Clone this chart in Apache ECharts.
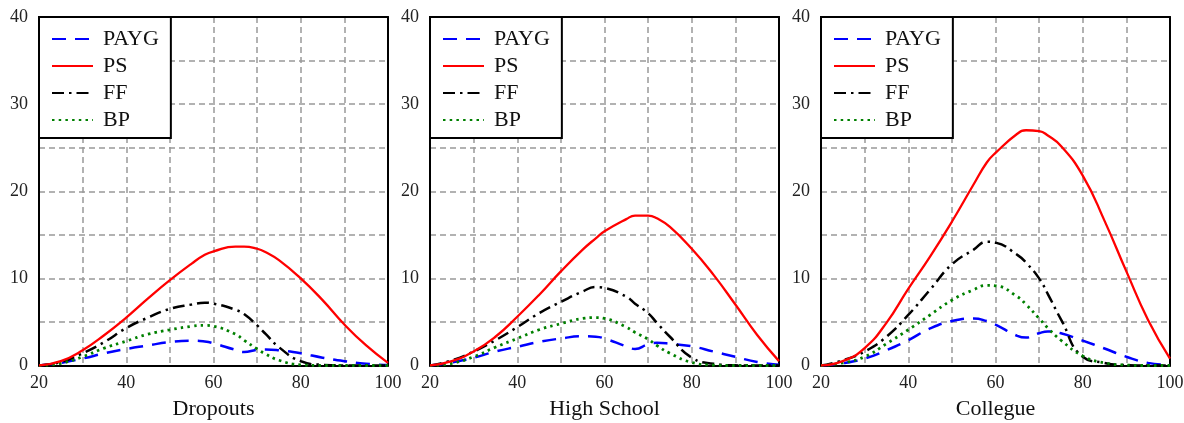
<!DOCTYPE html>
<html>
<head>
<meta charset="utf-8">
<script src="https://cdn.jsdelivr.net/npm/echarts@6/dist/echarts.min.js"></script>
<style>
html,body{margin:0;padding:0;background:#fff;}
#chart{width:1184px;height:423px;}
</style>
</head>
<body>
<div id="chart"></div>
<script>
// ---- data ----
const xs = [20,25,30,35,40,45,50,55,58,60,65,67,70,72,75,80,85,90,95,100];
const panelTitles = ['Dropouts','High School','Collegue'];
const seriesNames = ['PAYG','PS','FF','BP'];
const xTickLabels = [20,40,60,80,100];
const yTickLabels = [0,10,20,30,40];

const dropPAYG = [0,0.3,0.8,1.4,1.9,2.3,2.7,2.85,2.75,2.55,1.8,1.55,1.8,1.85,1.75,1.4,0.9,0.5,0.2,0.05];
const dropPS   = [0,0.5,1.75,3.5,5.5,7.7,9.8,11.7,12.7,13.1,13.65,13.65,13.4,13.0,12.1,10.0,7.5,4.7,2.3,0.3];
const dropFF   = [0,0.4,1.4,2.7,4.3,5.5,6.5,7.0,7.2,7.1,6.4,5.9,4.6,3.6,2.1,0.5,0.08,0.01,0,0];
const dropBP   = [0,0.25,1.0,2.0,2.8,3.6,4.1,4.5,4.6,4.5,3.6,2.9,1.9,1.3,0.6,0.08,0,0,0,0];

const hsPAYG = [0,0.35,0.9,1.6,2.15,2.7,3.1,3.35,3.3,3.1,2.2,1.9,2.45,2.6,2.5,2.2,1.6,1.0,0.4,0.1];
const hsPS   = [0,0.5,1.6,3.3,5.6,8.1,10.8,13.3,14.6,15.4,16.8,17.2,17.2,16.9,15.9,13.4,10.4,7.0,3.5,0.5];
const hsFF   = [0,0.6,1.6,2.9,4.4,6.0,7.3,8.5,9.0,8.9,7.9,7.1,6.0,4.9,3.3,0.9,0.2,0.02,0,0];
const hsBP   = [0,0.25,1.0,2.1,3.1,4.1,4.8,5.4,5.5,5.4,4.4,3.8,3.0,2.3,1.4,0.35,0.05,0,0,0];

const colPAYG = [0,0.25,0.8,1.75,2.9,4.25,5.1,5.4,5.1,4.7,3.4,3.2,3.7,3.9,3.7,2.85,1.95,1.0,0.3,0.08];
const colPS   = [0,0.5,2.0,4.9,8.8,12.5,16.5,20.8,23.3,24.4,26.6,27.0,26.9,26.4,25.2,21.8,16.6,10.8,5.2,0.8];
const colFF   = [0,0.6,1.6,3.3,5.8,8.7,11.6,13.3,14.2,14.1,12.7,11.8,10.0,8.2,5.3,1.0,0.3,0.05,0,0];
const colBP   = [0,0.3,1.0,2.5,4.1,5.8,7.5,8.7,9.2,9.15,7.9,7.0,5.4,4.3,2.9,1.1,0.3,0.05,0,0];

const panelData = [
  [dropPAYG, dropPS, dropFF, dropBP],
  [hsPAYG, hsPS, hsFF, hsBP],
  [colPAYG, colPS, colFF, colBP]
];

// ---- styles ----
const FONT = "'Liberation Serif','DejaVu Serif',serif";
const lineStyles = [
  {color:'#0000ff', width:2.5, type:[14,9]},
  {color:'#ff0000', width:2.3, type:'solid'},
  {color:'#000000', width:2.5, type:[12,5,2.5,5]},
  {color:'#008000', width:2.8, type:[2.5,4.2]}
];
const gridLefts = [39, 430, 821];
const GW = 349, GTOP = 17, GH = 348.5;
const border = {show:true, onZero:false, lineStyle:{color:'#000', width:2}};
const gridSplit = {show:true, showMinLine:false, showMaxLine:false,
  lineStyle:{color:'#999', width:1.5, type:[6,4]}};

const grids = [], xAxes = [], yAxes = [], series = [], legends = [];
gridLefts.forEach((left, i) => {
  grids.push({left:left, top:GTOP, width:GW, height:GH, outerBoundsMode:'none', containLabel:false});
  // bottom x axis
  xAxes.push({
    type:'value', gridIndex:i, position:'bottom', min:20, max:100, interval:10,
    name: panelTitles[i], nameLocation:'middle', nameGap:33,
    nameTextStyle:{fontFamily:FONT, fontSize:22, color:'#111'},
    axisLine:border, axisTick:{show:false},
    axisLabel:{margin:9, fontFamily:FONT, fontSize:18, color:'#222',
      formatter: v => xTickLabels.includes(v) ? String(v) : ''},
    splitLine:gridSplit
  });
  // top frame
  xAxes.push({
    type:'value', gridIndex:i, position:'top', min:20, max:100, interval:10,
    axisLine:border, axisTick:{show:false}, axisLabel:{show:false}, splitLine:{show:false}
  });
  // left y axis
  yAxes.push({
    type:'value', gridIndex:i, position:'left', min:0, max:40, interval:5,
    axisLine:border, axisTick:{show:false},
    axisLabel:{margin:11, fontFamily:FONT, fontSize:18, color:'#222',
      formatter: v => yTickLabels.includes(v) ? String(v) : ''},
    splitLine:gridSplit
  });
  // right frame
  yAxes.push({
    type:'value', gridIndex:i, position:'right', min:0, max:40, interval:5,
    axisLine:border, axisTick:{show:false}, axisLabel:{show:false}, splitLine:{show:false}
  });
  seriesNames.forEach((name, k) => {
    series.push({
      name:name, type:'line', xAxisIndex:2*i, yAxisIndex:2*i,
      data: xs.map((x, j) => [x, panelData[i][k][j]]),
      smooth:0.5, showSymbol:false, symbol:'none',
      lineStyle:lineStyles[k], itemStyle:{color:lineStyles[k].color},
      silent:true, animation:false, z:3 + (k===1?1:0)
    });
  });
  legends.push({
    orient:'vertical', left:left, top:GTOP, data:seriesNames,
    backgroundColor:'#fff', borderColor:'#000', borderWidth:2,
    padding:[11,12,7,12], itemGap:5, itemWidth:41, itemHeight:14,
    selectedMode:false,
    itemStyle:{color:'rgba(0,0,0,0)', borderColor:'rgba(0,0,0,0)', borderWidth:0},
    textStyle:{fontFamily:FONT, fontSize:22, color:'#111', padding:[0,0,0,5]},
    z:10
  });
});

const chart = echarts.init(document.getElementById('chart'), null, {renderer:'canvas'});
chart.setOption({
  animation:false,
  backgroundColor:'#fff',
  grid:grids, xAxis:xAxes, yAxis:yAxes, legend:legends, series:series
});
</script>
</body>
</html>
